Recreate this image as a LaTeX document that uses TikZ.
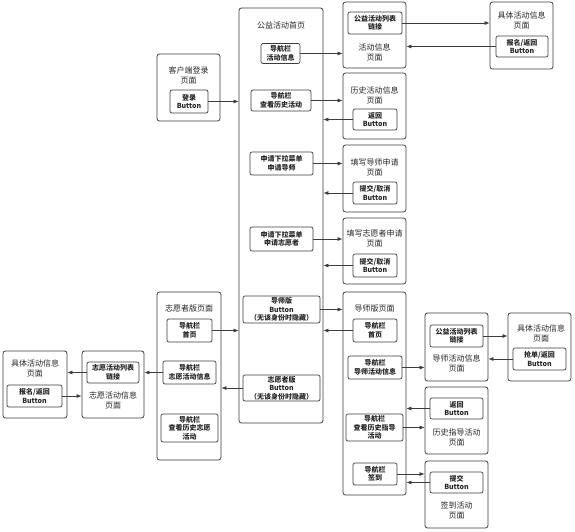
\documentclass[tikz,border=0pt]{standalone}
\usepackage{fontspec}
\setmainfont{Noto Sans CJK SC}
\usetikzlibrary{arrows.meta,positioning}
\definecolor{ln}{HTML}{3C3C3C}
\definecolor{tx}{HTML}{262626}
\newcommand{\ttlfont}{\fontsize{8}{10}\selectfont\color{tx}}
\newcommand{\btnfont}{\fontsize{7}{8.5}\selectfont\bfseries\color{tx}}
\tikzset{
  page/.style={draw=ln,line width=0.8pt,rounded corners=2.5pt,inner sep=0pt},
  btn/.style={draw=ln,line width=0.7pt,rounded corners=2pt,align=center,inner sep=0pt,font=\btnfont},
  ttl/.style={align=center,inner sep=0pt,font=\ttlfont},
  ar/.style={-{Latex[length=5pt,width=4pt]},line width=0.7pt,draw=ln},
}

\begin{document}
\begin{tikzpicture}[x=1pt,y=-1pt]
\useasboundingbox (0,0) rectangle (575,531);
% pages
\node[page,minimum width=63pt,minimum height=67pt] (login) at (188.5,87.5) {};
\node[page,minimum width=84pt,minimum height=415pt] (home) at (281,215.5) {};
\node[page,minimum width=63pt,minimum height=66pt] (info) at (374.5,35) {};
\node[page,minimum width=63pt,minimum height=67pt] (detA) at (521.5,35.5) {};
\node[page,minimum width=63pt,minimum height=66pt] (hist) at (374.5,106) {};
\node[page,minimum width=63pt,minimum height=67pt] (tApply) at (374.5,178.5) {};
\node[page,minimum width=63pt,minimum height=66pt] (vApply) at (374.5,251) {};
\node[page,minimum width=63pt,minimum height=203pt] (tutor) at (374.5,393.5) {};
\node[page,minimum width=63pt,minimum height=68pt] (tInfo) at (456.5,347) {};
\node[page,minimum width=63pt,minimum height=68pt] (detB) at (539.5,347) {};
\node[page,minimum width=63pt,minimum height=67pt] (guide) at (456.5,420.5) {};
\node[page,minimum width=63pt,minimum height=67pt] (sign) at (456.5,494.5) {};
\node[page,minimum width=64pt,minimum height=168pt] (vol) at (189,376) {};
\node[page,minimum width=62pt,minimum height=67pt] (vInfo) at (113,384.5) {};
\node[page,minimum width=64pt,minimum height=67pt] (detC) at (35,384.5) {};
% titles
\node[ttl] (loginT) at (188.5,75) {客户端登录\\页面};
\node[ttl] (homeT) at (281,25) {公益活动首页};
\node[ttl] (infoT) at (374.5,52) {活动信息\\页面};
\node[ttl] (detAT) at (521.5,20) {具体活动信息\\页面};
\node[ttl] (histT) at (374.5,95) {历史活动信息\\页面};
\node[ttl] (tApplyT) at (374.5,167) {填写导师申请\\页面};
\node[ttl] (vApplyT) at (374.5,238.5) {填写志愿者申请\\页面};
\node[ttl] (tutorT) at (374.5,308) {导师版页面};
\node[ttl] (tInfoT) at (456.5,363) {导师活动信息\\页面};
\node[ttl] (detBT) at (541,333) {具体活动信息\\页面};
\node[ttl] (guideT) at (456.5,437.5) {历史指导活动\\页面};
\node[ttl] (signT) at (456.5,510) {签到活动\\页面};
\node[ttl] (volT) at (189,308) {志愿者版页面};
\node[ttl] (vInfoT) at (113,400) {志愿活动信息\\页面};
\node[ttl] (detCT) at (35,368) {具体活动信息\\页面};
% buttons and links
\node[btn,minimum width=38pt,minimum height=23pt] (loginBtn) at (189,101.5) {登录\\Button};
\node[btn,minimum width=39pt,minimum height=20pt] (navInfo) at (280.5,53.5) {导航栏\\活动信息};
\node[btn,minimum width=60pt,minimum height=21pt] (navHist) at (281,100.5) {导航栏\\查看历史活动};
\node[btn,minimum width=63pt,minimum height=23pt] (applyT) at (281.5,163.5) {申请下拉菜单\\申请导师};
\node[btn,minimum width=63pt,minimum height=24pt] (applyV) at (281.5,239) {申请下拉菜单\\申请志愿者};
\node[btn,minimum width=77pt,minimum height=27pt] (tutorBtn) at (281.5,309.5) {导师版\\Button\\（无该身份时隐藏）};
\node[btn,minimum width=77pt,minimum height=26pt] (volBtn) at (281.5,388) {志愿者版\\Button\\（无该身份时隐藏）};
\node[btn,minimum width=54pt,minimum height=22pt] (infoLink) at (375,23) {公益活动列表\\链接};
\node[btn,minimum width=52pt,minimum height=21pt] (detABtn) at (522,46.5) {报名/返回\\Button};
\node[btn,minimum width=44pt,minimum height=21pt] (histBack) at (375,119.5) {返回\\Button};
\node[btn,minimum width=44pt,minimum height=22pt] (tApplyBtn) at (375,193) {提交/取消\\Button};
\node[btn,minimum width=44pt,minimum height=23pt] (vApplyBtn) at (375,265.5) {提交/取消\\Button};
\node[btn,minimum width=44pt,minimum height=23pt] (tNavHome) at (375,330.5) {导航栏\\首页};
\node[btn,minimum width=54pt,minimum height=23pt] (tNavInfo) at (375,367.5) {导航栏\\导师活动信息};
\node[btn,minimum width=57pt,minimum height=27pt] (tNavGuide) at (374.5,427.5) {导航栏\\查看历史指导\\活动};
\node[btn,minimum width=44pt,minimum height=22pt] (tNavSign) at (375,474) {导航栏\\签到};
\node[btn,minimum width=53pt,minimum height=22pt] (tInfoLink) at (456.5,336) {公益活动列表\\链接};
\node[btn,minimum width=53pt,minimum height=22pt] (detBBtn) at (539.5,359) {抢单/返回\\Button};
\node[btn,minimum width=53pt,minimum height=21pt] (guideBack) at (456.5,408.5) {返回\\Button};
\node[btn,minimum width=53pt,minimum height=21pt] (signBtn) at (456.5,482.5) {提交\\Button};
\node[btn,minimum width=45pt,minimum height=23pt] (vNavHome) at (189.5,330.5) {导航栏\\首页};
\node[btn,minimum width=53pt,minimum height=23pt] (vNavInfo) at (189.5,372.5) {导航栏\\志愿活动信息};
\node[btn,minimum width=57pt,minimum height=28pt] (vNavHist) at (189.5,428) {导航栏\\查看历史志愿\\活动};
\node[btn,minimum width=52pt,minimum height=21pt] (vInfoLink) at (113,372.5) {志愿活动列表\\链接};
\node[btn,minimum width=55pt,minimum height=22pt] (detCBtn) at (34.5,396) {报名/返回\\Button};
% connectors
\draw[ar] (loginBtn.east) -- (loginBtn.east -| home.west);
\draw[ar] (navInfo.east) -- (navInfo.east -| info.west);
\draw[ar] (infoLink.east) -- (infoLink.east -| detA.west);
\draw[ar] (detABtn.west) -- (detABtn.west -| info.east);
\draw[ar] (navHist.east) -- (navHist.east -| hist.west);
\draw[ar] (histBack.west) -- (histBack.west -| home.east);
\draw[ar] (applyT.east) -- (applyT.east -| tApply.west);
\draw[ar] (tApplyBtn.west) -- (tApplyBtn.west -| home.east);
\draw[ar] (applyV.east) -- (applyV.east -| vApply.west);
\draw[ar] (vApplyBtn.west) -- (vApplyBtn.west -| home.east);
\draw[ar] (tutorBtn.east) -- (tutorBtn.east -| tutor.west);
\draw[ar] (tNavHome.west) -- (tNavHome.west -| home.east);
\draw[ar] (vNavHome.east) -- (vNavHome.east -| home.west);
\draw[ar] (volBtn.west) -- (volBtn.west -| vol.east);
\draw[ar] (vNavInfo.west) -- (vNavInfo.west -| vInfo.east);
\draw[ar] (vInfoLink.west) -- (vInfoLink.west -| detC.east);
\draw[ar] (detCBtn.east) -- (detCBtn.east -| vInfo.west);
\draw[ar] (tNavInfo.east) -- (tNavInfo.east -| tInfo.west);
\draw[ar] (tInfoLink.east) -- (tInfoLink.east -| detB.west);
\draw[ar] (detBBtn.west) -- (detBBtn.west -| tInfo.east);
\draw[ar] (guideBack.west) -- (guideBack.west -| tutor.east);
\draw[ar] (tNavGuide.east) -- (tNavGuide.east -| guide.west);
\draw[ar] (tNavSign.east) -- (tNavSign.east -| sign.west);
\draw[ar] (signBtn.west) -- (signBtn.west -| tutor.east);
\end{tikzpicture}
\end{document}
